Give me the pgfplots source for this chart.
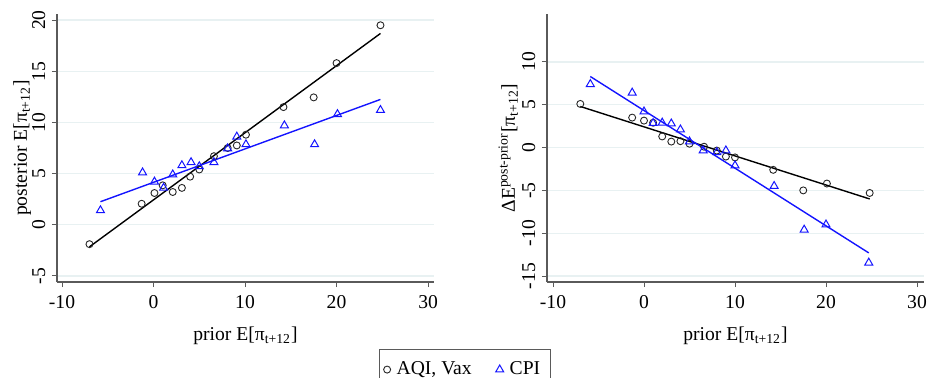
\documentclass[border=0pt]{standalone}
\usepackage{pgfplots}
\pgfplotsset{compat=1.18}
\usepackage{fontspec}
\setmainfont{Liberation Serif}
\definecolor{gridc}{RGB}{232,241,242}
\definecolor{axc}{RGB}{90,90,90}
\definecolor{cpiblue}{RGB}{20,20,255}
\newcommand{\lblfont}{\fontsize{9.8pt}{11pt}\selectfont}
\pgfplotsset{
  stataaxis/.style={
    scale only axis, width=188.5pt, height=134pt,
    axis x line*=bottom, axis y line*=left,
    axis line style={-, draw=axc, line width=0.6pt},
    tick align=outside, major tick length=2.6pt,
    tick style={draw=axc, line width=0.5pt},
    ymajorgrids, major grid style={draw=gridc, line width=0.7pt},
    xtick={-10,0,...,30},
    /pgf/number format/assume math mode=true,
    tick label style={font=\lblfont, inner sep=0pt},
    xticklabel style={anchor=north},
    xticklabel shift=4pt,
    yticklabel style={rotate=90, anchor=south},
    yticklabel shift=3pt,
    label style={font=\lblfont},
    xlabel style={at={(axis description cs:0.5,0)}, anchor=base, yshift=-29pt},
    xlabel={prior E[π\textsubscript{t+12}]},
    clip=false,
  },
  circ/.style={only marks, mark=o, mark size=1.75pt, draw=black!85, mark options={line width=0.45pt}},
  tri/.style={only marks, mark=triangle, mark size=2.3pt, draw=cpiblue, mark options={line width=0.5pt}},
}
\pgfplotstableread{
x y
-7 -1.9
-1.3 2.05
0.1 3.1
1.0 3.85
2.1 3.2
3.1 3.6
4.0 4.7
5.0 5.4
6.6 6.7
8.1 7.5
9.1 7.75
10.1 8.8
14.2 11.5
17.5 12.45
20.0 15.8
24.8 19.5
}\leftcirc
\pgfplotstableread{
x y
-5.8 1.4
-1.2 5.1
0.1 4.2
1.1 3.6
2.1 4.9
3.1 5.8
4.1 6.1
5.0 5.7
6.6 6.1
8.1 7.45
9.1 8.6
10.1 7.85
14.3 9.7
17.6 7.85
20.1 10.8
24.8 11.2
}\lefttri
\pgfplotstableread{
x y
-7 5.1
-1.3 3.5
0 3.15
1 2.9
2 1.3
3 0.7
4 0.75
5 0.45
6.6 0.1
8 -0.35
9 -1.05
10 -1.15
14.2 -2.6
17.5 -5.0
20.1 -4.2
24.8 -5.3
}\rightcirc
\pgfplotstableread{
x y
-5.9 7.4
-1.3 6.4
0 4.2
1 2.85
2 2.9
3 2.8
4 2.1
5 0.7
6.5 -0.35
8 -0.55
9 -0.35
10 -2.1
14.3 -4.5
17.6 -9.6
20 -9.0
24.7 -13.45
}\righttri
\begin{document}
\begin{tikzpicture}
\useasboundingbox (-28.5pt,-47.5pt) rectangle (437.5pt,141pt);
\begin{axis}[stataaxis,
  xmin=-10.55, xmax=30.65, ymin=-5.6, ymax=20.6,
  ytick={-5,0,...,20},
  ylabel={posterior E[π\textsubscript{t+12}]},
  ylabel style={at={(axis description cs:-0.08,0.5)}, anchor=base, rotate=0},
  legend columns=2,
  legend style={at={(1.082,-0.25)}, anchor=north, draw=axc, line width=0.6pt,
    font=\lblfont, inner xsep=2pt, inner ysep=4pt,
    /tikz/every even column/.append style={column sep=9pt},
    nodes={inner xsep=3pt}},
  legend image code/.code={\draw[mark repeat=2,mark phase=2] plot coordinates {(0cm,0cm) (0.15cm,0cm) (0.3cm,0cm)};},
  legend cell align=left,
]
\addplot[black, line width=0.7pt, forget plot] coordinates {(-7,-2.16) (24.8,18.7)};
\addplot[cpiblue, line width=0.7pt, forget plot] coordinates {(-5.8,2.25) (24.8,12.25)};
\addplot[circ] table {\leftcirc};
\addlegendentry{AQI, Vax}
\addplot[tri] table {\lefttri};
\addlegendentry{CPI}
\end{axis}
\begin{axis}[stataaxis, at={(245pt,0pt)},
  xmin=-10.66, xmax=30.77, ymin=-15.7, ymax=15.6,
  ytick={-15,-10,...,10},
  ylabel={ΔE\textsuperscript{post-prior}[π\textsubscript{t+12}]},
  ylabel style={at={(axis description cs:-0.085,0.5)}, anchor=base, rotate=0},
]
\addplot[black, line width=0.7pt] coordinates {(-7,4.8) (24.8,-6.0)};
\addplot[cpiblue, line width=0.7pt] coordinates {(-5.9,8.3) (24.7,-12.3)};
\addplot[circ] table {\rightcirc};
\addplot[tri] table {\righttri};
\end{axis}
\end{tikzpicture}
\end{document}
